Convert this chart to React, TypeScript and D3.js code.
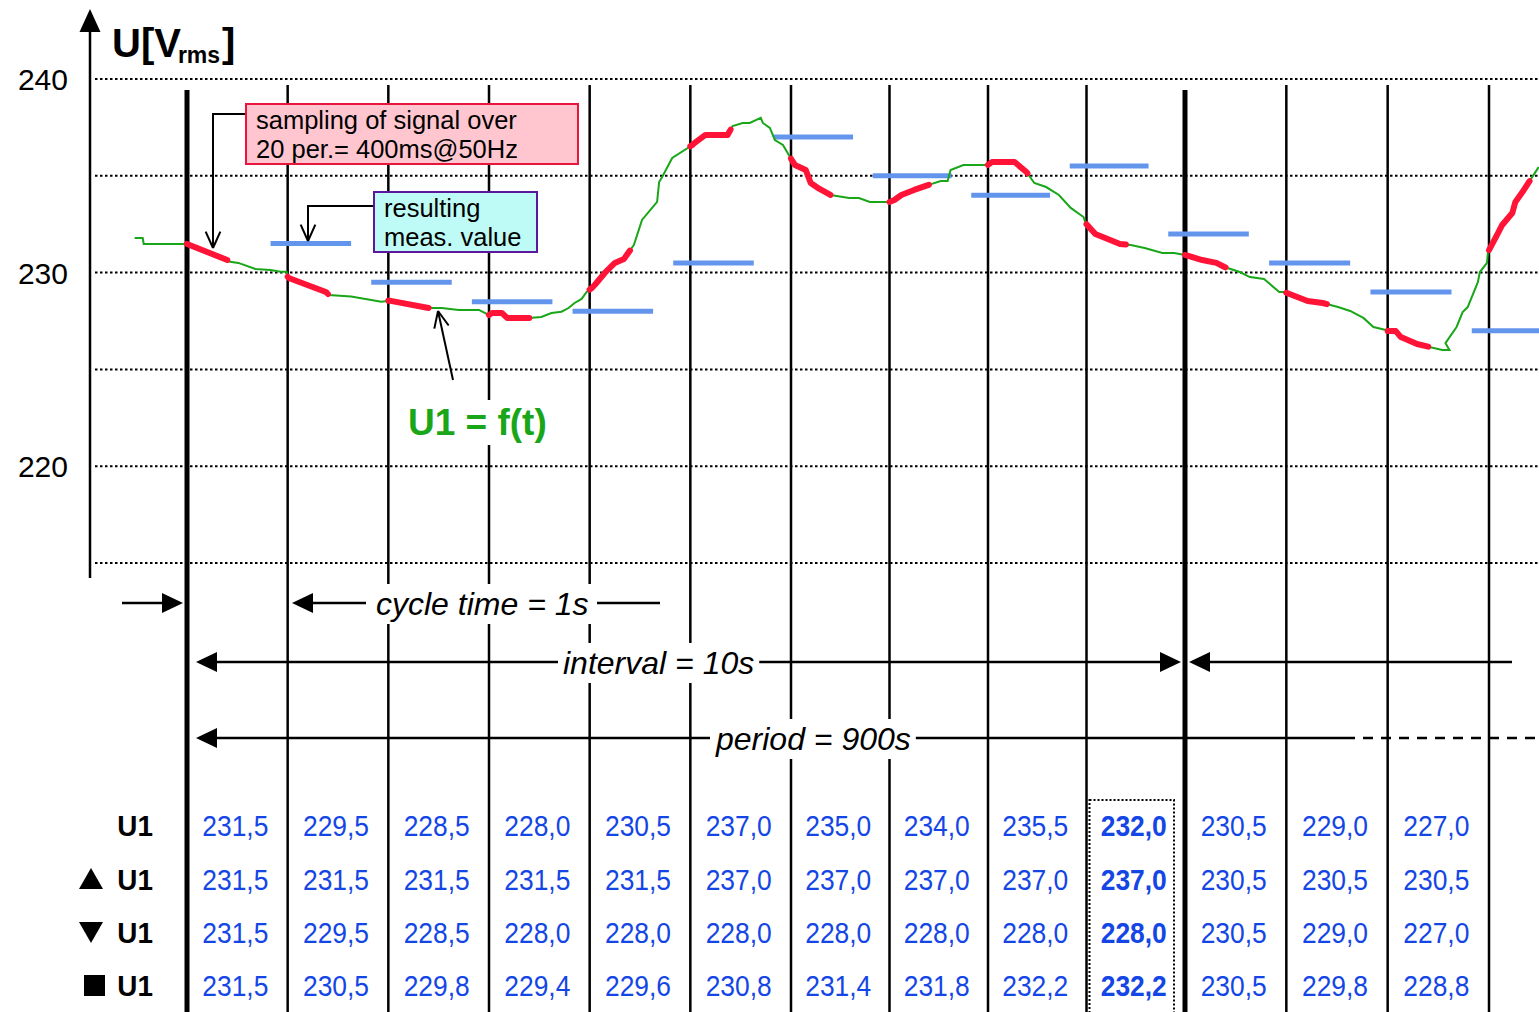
import React, { useRef, useEffect } from "react";
import * as d3 from "d3";

const W = 1539;
const H = 1012;

// y axis
const gridValues = [240, 235, 230, 225, 220, 215];
const tickValues = [240, 230, 220];

// cycle boundaries (seconds) and the interval boundaries drawn thick
const cycleMarks = [0, 1, 2, 3, 4, 5, 6, 7, 8, 9, 10, 11, 12, 13];
const intervalMarks = [0, 10];
const sampleLength = 0.4; // 20 periods = 400 ms
const resultFrom = 0.83; // blue bar drawn after the sample
const resultTo = 1.63;

// table values
const u1 = [231.5, 229.5, 228.5, 228.0, 230.5, 237.0, 235.0, 234.0, 235.5, 232.0, 230.5, 229.0, 227.0];
const u1Max = [231.5, 231.5, 231.5, 231.5, 231.5, 237.0, 237.0, 237.0, 237.0, 237.0, 230.5, 230.5, 230.5];
const u1Min = [231.5, 229.5, 228.5, 228.0, 228.0, 228.0, 228.0, 228.0, 228.0, 228.0, 230.5, 229.0, 227.0];
const u1Avg = [231.5, 230.5, 229.8, 229.4, 229.6, 230.8, 231.4, 231.8, 232.2, 232.2, 230.5, 229.8, 228.8];
const rows = [u1, u1Max, u1Min, u1Avg];
const rowSymbols = ["", "up", "down", "square"];
const boldColumn = 9;

// U1 = f(t): [seconds, volts]
const signal: [number, number][] = [
  [-0.52, 231.79], [-0.44, 231.79], [-0.43, 231.48], [0.0, 231.48], [0.4, 230.65], [0.43, 230.56],
  [0.51, 230.5], [0.68, 230.19], [0.83, 230.13], [0.93, 230.05], [0.99, 230.05], [1.0, 229.79],
  [1.01, 229.72], [1.38, 229.0], [1.41, 228.84], [1.63, 228.76], [1.93, 228.5], [2.01, 228.55],
  [2.4, 228.17], [2.53, 228.17], [2.7, 228.07], [2.9, 228.07], [3.0, 227.81], [3.03, 227.91],
  [3.13, 227.91], [3.18, 227.66], [3.4, 227.66], [3.52, 227.71], [3.62, 227.91], [3.72, 227.98],
  [3.79, 228.17], [3.85, 228.43], [3.92, 228.64], [3.97, 229.0], [4.02, 229.2], [4.05, 229.36],
  [4.15, 229.98], [4.25, 230.5], [4.34, 230.7], [4.44, 231.43], [4.52, 232.72], [4.67, 233.65],
  [4.69, 234.68], [4.72, 234.94], [4.82, 235.92], [5.02, 236.59], [5.04, 236.69], [5.15, 237.11],
  [5.37, 237.11], [5.42, 237.57], [5.52, 237.73], [5.59, 237.73], [5.7, 237.99], [5.72, 237.73],
  [5.79, 237.47], [5.84, 236.85], [5.92, 236.59], [6.02, 235.71], [6.04, 235.56], [6.15, 235.3],
  [6.2, 234.63], [6.29, 234.32], [6.4, 234.01], [6.59, 233.85], [6.69, 233.85], [6.8, 233.65],
  [7.0, 233.65], [7.05, 233.75], [7.12, 234.01], [7.25, 234.27], [7.39, 234.52], [7.52, 234.73],
  [7.59, 234.73], [7.62, 235.3], [7.75, 235.56], [8.0, 235.56], [8.04, 235.71], [8.27, 235.71],
  [8.39, 235.2], [8.47, 234.63], [8.59, 234.42], [8.72, 234.01], [8.84, 233.34], [8.97, 232.87],
  [8.99, 232.56], [9.09, 231.99], [9.34, 231.48], [9.45, 231.43], [9.59, 231.27], [9.77, 231.01],
  [9.89, 231.01], [10.0, 230.91], [10.17, 230.65], [10.31, 230.5], [10.39, 230.29], [10.54, 230.03],
  [10.64, 229.77], [10.78, 229.67], [10.93, 229.0], [10.98, 229.0], [11.21, 228.53], [11.36, 228.43],
  [11.51, 228.22], [11.63, 228.02], [11.76, 227.66], [11.86, 227.19], [11.98, 227.04], [11.99, 226.98],
  [12.08, 226.98], [12.13, 226.67], [12.29, 226.31], [12.41, 226.16], [12.54, 226.0], [12.61, 226.0],
  [12.57, 226.36], [12.68, 227.19], [12.74, 227.96], [12.79, 228.22], [12.89, 229.51], [12.91, 230.03],
  [12.98, 230.5], [12.99, 231.06], [13.09, 232.05], [13.13, 232.46], [13.23, 233.08], [13.26, 233.65],
  [13.33, 234.16], [13.49, 235.45],
];

const font = "'Liberation Sans', Arial, Helvetica, sans-serif";
const fmt = (v: number) => d3.format(".1f")(v).replace(".", ",");

function valueAt(t: number): number {
  for (let k = 0; k < signal.length - 1; k++) {
    const [t0, v0] = signal[k];
    const [t1, v1] = signal[k + 1];
    if (t0 <= t && t <= t1) return v0 + ((t - t0) / (t1 - t0 || 1)) * (v1 - v0);
  }
  return signal[signal.length - 1][1];
}

export default function App() {
  const ref = useRef<SVGSVGElement>(null);

  useEffect(() => {
    const svg = d3.select(ref.current);
    svg.selectAll("*").remove();

    // the drawing's time axis is not quite even, so a piecewise scale
    const x = d3.scaleLinear().domain([0, 6, 10, 13]).range([187, 791, 1185, 1489]);
    const y = d3.scaleLinear().domain([215, 240]).range([563, 79]);

    // dotted grid
    svg.append("g")
      .selectAll("line")
      .data(gridValues)
      .join("line")
      .attr("x1", 95)
      .attr("x2", W)
      .attr("y1", (d) => y(d))
      .attr("y2", (d) => y(d))
      .attr("stroke", "#000")
      .attr("stroke-width", 2)
      .attr("stroke-dasharray", "2.5,2.5");

    // y axis with arrow
    svg.append("line")
      .attr("x1", 90).attr("x2", 90).attr("y1", 28).attr("y2", 578)
      .attr("stroke", "#000").attr("stroke-width", 2.5);
    svg.append("path").attr("d", "M90,9L79.5,32L100.5,32Z").attr("fill", "#000");

    svg.append("g")
      .selectAll("text")
      .data(tickValues)
      .join("text")
      .attr("x", 68)
      .attr("y", (d) => y(d) + 11)
      .attr("text-anchor", "end")
      .attr("font-size", 30)
      .text((d) => d);

    const title = svg.append("text")
      .attr("x", 112).attr("y", 57)
      .attr("font-weight", "bold").attr("font-size", 40);
    title.append("tspan").text("U[V");
    title.append("tspan").attr("font-size", 23).attr("dy", 6).attr("dx", -3).text("rms");
    title.append("tspan").attr("dy", -6).attr("dx", 2).text("]");

    // vertical cycle lines
    svg.append("g")
      .selectAll("line")
      .data(cycleMarks)
      .join("line")
      .attr("x1", (d) => x(d))
      .attr("x2", (d) => x(d))
      .attr("y1", (d) => (intervalMarks.includes(d) ? 90 : 85))
      .attr("y2", H)
      .attr("stroke", "#000")
      .attr("stroke-width", (d) => (intervalMarks.includes(d) ? 5 : 2.5));

    // resulting measurement values
    svg.append("g")
      .selectAll("line")
      .data(u1)
      .join("line")
      .attr("x1", (d, i) => x(i + resultFrom))
      .attr("x2", (d, i) => Math.min(x(i + resultTo), W))
      .attr("y1", (d) => y(d))
      .attr("y2", (d) => y(d))
      .attr("stroke", "#6495ed")
      .attr("stroke-width", 5);

    const line = d3.line<[number, number]>()
      .x((d) => x(d[0]))
      .y((d) => y(d[1]));

    svg.append("path")
      .datum(signal)
      .attr("d", line)
      .attr("fill", "none")
      .attr("stroke", "#19a619")
      .attr("stroke-width", 2);

    // sampled windows
    const windows = cycleMarks.map((c) => {
      const a = c;
      const b = c + sampleLength;
      const inner = signal.filter((p) => p[0] > a && p[0] < b);
      return [[a, valueAt(a)] as [number, number], ...inner, [b, valueAt(b)] as [number, number]];
    });
    svg.append("g")
      .selectAll("path")
      .data(windows)
      .join("path")
      .attr("d", line)
      .attr("fill", "none")
      .attr("stroke", "#ff1438")
      .attr("stroke-width", 6)
      .attr("stroke-linecap", "round")
      .attr("stroke-linejoin", "round");

    // helpers
    const solidHead = (tip: number, yy: number, dir: number) =>
      svg.append("path")
        .attr("d", `M${tip},${yy}L${tip - dir * 21},${yy - 10}L${tip - dir * 21},${yy + 10}Z`)
        .attr("fill", "#000");
    const hline = (x1: number, x2: number, yy: number, dash?: string) =>
      svg.append("line")
        .attr("x1", x1).attr("x2", x2).attr("y1", yy).attr("y2", yy)
        .attr("stroke", "#000").attr("stroke-width", 2.5)
        .attr("stroke-dasharray", dash || null);
    const openHead = (tx: number, ty: number, fx: number, fy: number) => {
      const ang = Math.atan2(fy - ty, fx - tx);
      [-0.42, 0.42].forEach((da) => {
        svg.append("line")
          .attr("x1", tx).attr("y1", ty)
          .attr("x2", tx + 18 * Math.cos(ang + da))
          .attr("y2", ty + 18 * Math.sin(ang + da))
          .attr("stroke", "#000").attr("stroke-width", 2);
      });
    };
    const labelWithBg = (tx: number, ty: number, txt: string, size: number, opts: any = {}) => {
      const g = svg.append("g");
      const rect = g.append("rect").attr("fill", "#fff");
      const t = g.append("text")
        .attr("x", tx).attr("y", ty)
        .attr("font-size", size)
        .attr("font-style", opts.italic ? "italic" : null)
        .attr("font-weight", opts.bold ? "bold" : null)
        .attr("fill", opts.color || "#000")
        .text(txt);
      const bb = (t.node() as SVGTextElement).getBBox();
      rect.attr("x", bb.x - 5).attr("y", bb.y - 2).attr("width", bb.width + 10).attr("height", bb.height + 4);
    };

    // cycle time
    hline(122, 165, 603);
    solidHead(183, 603, 1);
    solidHead(292, 603, -1);
    hline(310, 366, 603);
    labelWithBg(376, 615, "cycle time = 1s", 32, { italic: true });
    hline(597, 660, 603);

    // interval
    hline(214, 1165, 662);
    solidHead(196, 662, -1);
    solidHead(1181, 662, 1);
    solidHead(1189, 662, -1);
    hline(1207, 1512, 662);
    labelWithBg(563, 674, "interval = 10s", 32, { italic: true });

    // period
    hline(214, 1345, 738);
    solidHead(196, 738, -1);
    hline(1345, W, 738, "10,8");
    labelWithBg(716, 750, "period = 900s", 32, { italic: true });

    // U1 = f(t)
    labelWithBg(408, 435, "U1 = f(t)", 37, { bold: true, color: "#19a619" });
    svg.append("line")
      .attr("x1", 453).attr("y1", 380).attr("x2", 438).attr("y2", 311)
      .attr("stroke", "#000").attr("stroke-width", 2);
    openHead(438, 311, 453, 380);

    // sampling annotation
    svg.append("path")
      .attr("d", "M246,114H213V247")
      .attr("fill", "none").attr("stroke", "#000").attr("stroke-width", 2);
    openHead(213, 248, 213, 200);
    svg.append("rect")
      .attr("x", 246).attr("y", 104).attr("width", 332).attr("height", 60)
      .attr("fill", "#ffc6cf").attr("stroke", "#e8163c").attr("stroke-width", 2);
    svg.append("text").attr("x", 256).attr("y", 129).attr("font-size", 25.5).text("sampling of signal over");
    svg.append("text").attr("x", 256).attr("y", 158).attr("font-size", 25.5).text("20 per.= 400ms@50Hz");

    // result annotation
    svg.append("path")
      .attr("d", "M374,206H308V240")
      .attr("fill", "none").attr("stroke", "#000").attr("stroke-width", 2);
    openHead(308, 241, 308, 200);
    svg.append("rect")
      .attr("x", 374).attr("y", 192).attr("width", 163).attr("height", 60)
      .attr("fill", "#bffbf6").attr("stroke", "#5b189c").attr("stroke-width", 2);
    svg.append("text").attr("x", 384).attr("y", 217).attr("font-size", 25.5).text("resulting");
    svg.append("text").attr("x", 384).attr("y", 246).attr("font-size", 25.5).text("meas. value");

    // table
    const rowY = [836, 890, 943, 996];
    rows.forEach((vals, r) => {
      const g = svg.append("g");
      vals.forEach((v, i) => {
        g.append("g")
          .attr("transform", `translate(${x(i + 0.5) - 2},${rowY[r]}) scale(0.88,1)`)
          .append("text")
          .attr("text-anchor", "middle")
          .attr("font-size", 30)
          .attr("font-weight", i === boldColumn ? "bold" : null)
          .attr("fill", "#1446e6")
          .text(fmt(v));
      });
      svg.append("g")
        .attr("transform", `translate(153,${rowY[r]}) scale(0.93,1)`)
        .append("text")
        .attr("text-anchor", "end")
        .attr("font-size", 30)
        .attr("font-weight", "bold")
        .text("U1");
      const cy = rowY[r] - 11;
      const s = rowSymbols[r];
      if (s === "up") svg.append("path").attr("d", `M91,${cy - 11}L79,${cy + 10}L103,${cy + 10}Z`);
      if (s === "down") svg.append("path").attr("d", `M91,${cy + 11}L79,${cy - 10}L103,${cy - 10}Z`);
      if (s === "square") svg.append("rect").attr("x", 84).attr("y", cy - 10).attr("width", 21).attr("height", 21);
    });

    svg.append("rect")
      .attr("x", x(boldColumn) + 3).attr("y", 800)
      .attr("width", x(boldColumn + 1) - x(boldColumn) - 14).attr("height", H - 798)
      .attr("fill", "none").attr("stroke", "#000").attr("stroke-width", 2)
      .attr("stroke-dasharray", "2,2");
  }, []);

  return (
    <svg
      ref={ref}
      width={W}
      height={H}
      style={{ position: "absolute", left: 0, top: 0, background: "#fff", fontFamily: font }}
    ></svg>
  );
}
